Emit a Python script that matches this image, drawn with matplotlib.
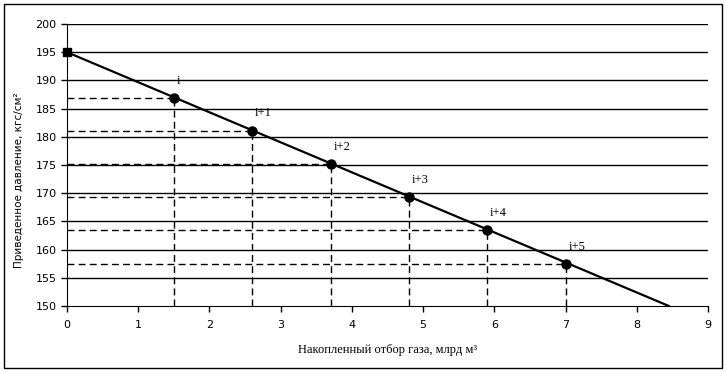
import matplotlib
matplotlib.use("Agg")
import matplotlib.pyplot as plt
from matplotlib.patches import Rectangle

# data
start_x, start_y = 0.0, 195.0
end_x, end_y = 8.45, 150.0
pts_x = [1.5, 2.6, 3.7, 4.8, 5.9, 7.0]
pts_y = [186.9, 181.1, 175.1, 169.3, 163.4, 157.4]
pt_labels = ["i", "i+1", "i+2", "i+3", "i+4", "i+5"]
xticks = list(range(0, 10))
yticks = list(range(150, 201, 5))

fig = plt.figure(figsize=(7.26, 3.72), dpi=100)
ax = fig.add_axes([67 / 726, 1 - 306 / 372, (708 - 67) / 726, (306 - 24) / 372])

ax.set_xlim(0, 9)
ax.set_ylim(150, 200)
for y in yticks[1:]:
    ax.axhline(y, color="black", lw=1.0, zorder=1)

# dashed projections
for x, y in zip(pts_x, pts_y):
    ax.plot([0, x], [y, y], color="black", lw=1.0, ls=(0, (5, 3)), zorder=2)
    ax.plot([x, x], [150, y], color="black", lw=1.0, ls=(0, (5, 3)), zorder=2)

ax.plot([start_x, end_x], [start_y, end_y], color="black", lw=1.6, zorder=3)
ax.plot([start_x], [start_y], marker="s", color="black", ms=6, zorder=4, clip_on=False)
ax.plot(pts_x, pts_y, "o", color="black", ms=6.5, zorder=4)

for x, y, s in zip(pts_x, pts_y, pt_labels):
    ax.annotate(s, (x, y), xytext=(2, 8), textcoords="offset points",
                fontsize=9, family="Liberation Serif", ha="left", va="bottom")

ax.set_xticks(xticks)
ax.set_yticks(yticks)
ax.tick_params(direction="out", length=4, width=1, labelsize=8, color="black")
for lab in ax.get_xticklabels() + ax.get_yticklabels():
    lab.set_family("DejaVu Sans")
ax.tick_params(axis="x", pad=6)
ax.spines["top"].set_visible(False)
ax.spines["right"].set_visible(False)

ax.set_xlabel("Накопленный отбор газа, млрд м³", family="Liberation Serif",
              fontsize=9, labelpad=10)
fig.text(19 / 726, 1 - 92 / 372, "Приведенное давление, кгс/см²", rotation=90,
         ha="center", va="top", family="DejaVu Sans", fontsize=7.5)

fig.patches.append(Rectangle((4 / 726, 4 / 372), 718 / 726, 364 / 372, fill=False,
                             edgecolor="black", lw=1.0, transform=fig.transFigure))

fig.savefig("out.png", dpi=100)
